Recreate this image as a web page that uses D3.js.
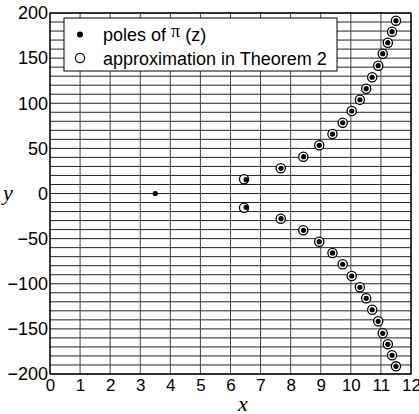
<!DOCTYPE html>
<html>
<head>
<meta charset="utf-8">
<script src="https://cdn.jsdelivr.net/npm/d3@7"></script>
<style>
  body { margin: 0; background: #fff; }
  text { font-family: "Liberation Sans", Arial, sans-serif; }
</style>
</head>
<body>
<div id="chart"></div>
<script>
// poles of pi(z): one real pole and a string of conjugate pairs
var realPoleX = [3.50];
var realPoleY = [0];
var poleX = [6.52, 7.68, 8.43, 8.95, 9.39, 9.73, 10.03, 10.30, 10.51, 10.71, 10.91, 11.06, 11.23, 11.37, 11.50];
var poleY = [15.3, 27.9, 40.8, 53.4, 65.9, 78.4, 91.4, 103.9, 116.1, 128.8, 141.6, 154.9, 167.1, 179.3, 191.5];
// approximation in Theorem 2
var approxX = [6.45, 7.67, 8.42, 8.95, 9.39, 9.73, 10.03, 10.30, 10.51, 10.71, 10.91, 11.06, 11.23, 11.37, 11.50];
var approxY = [15.8, 28.0, 40.8, 53.4, 65.9, 78.4, 91.4, 103.9, 116.1, 128.8, 141.6, 154.9, 167.1, 179.3, 191.5];

var xTicks = [0, 1, 2, 3, 4, 5, 6, 7, 8, 9, 10, 11, 12];
var yTicks = [-200, -150, -100, -50, 0, 50, 100, 150, 200];
var yGrid = d3.range(-200, 201, 10);

function main() {
    var margin = {top: 13, right: 8, bottom: 40, left: 50},
        width = 419 - margin.left - margin.right,
        height = 414 - margin.top - margin.bottom;

    var svg = d3.select("#chart")
        .append("svg")
        .attr("width", 419)
        .attr("height", 414)
        .append("g")
        .attr("transform", "translate(" + margin.left + "," + margin.top + ")");

    var x = d3.scaleLinear().domain([0, 12]).range([0, width]);
    var y = d3.scaleLinear().domain([-200, 200]).range([height, 0]);

    // grid
    svg.append("g")
        .selectAll("line")
        .data(yGrid)
        .join("line")
        .attr("x1", 0).attr("x2", width)
        .attr("y1", d => y(d)).attr("y2", d => y(d))
        .style("stroke", "#222")
        .style("stroke-width", 1);
    svg.append("g")
        .selectAll("line")
        .data(xTicks)
        .join("line")
        .attr("y1", 0).attr("y2", height)
        .attr("x1", d => x(d)).attr("x2", d => x(d))
        .style("stroke", "#444")
        .style("stroke-width", 1);

    // axes
    var xAxis = svg.append("g")
        .attr("transform", "translate(0," + height + ")")
        .call(d3.axisBottom(x).tickValues(xTicks).tickSize(0).tickPadding(5)
            .tickFormat(d3.format("d")));
    xAxis.select(".domain").remove();
    xAxis.selectAll("text").attr("font-size", "17px").attr("fill", "#000")
        .style("font-family", "Liberation Sans, Arial, sans-serif");

    var yAxis = svg.append("g")
        .call(d3.axisLeft(y).tickValues(yTicks).tickSize(0).tickPadding(2)
            .tickFormat(d => d < 0 ? "\u2212" + Math.abs(d) : d));
    yAxis.select(".domain").remove();
    yAxis.selectAll("text").attr("font-size", "18px").attr("fill", "#000")
        .style("font-family", "Liberation Sans, Arial, sans-serif");

    // frame
    svg.append("rect")
        .attr("width", width).attr("height", height)
        .style("fill", "none").style("stroke", "#000").style("stroke-width", 1.3);

    // axis labels
    svg.append("text")
        .attr("x", 188).attr("y", height + 37)
        .style("font-family", "Liberation Serif, serif")
        .style("font-style", "italic")
        .attr("font-size", "22px")
        .text("x");
    svg.append("text")
        .attr("x", -47).attr("y", y(0) + 6)
        .style("font-family", "Liberation Serif, serif")
        .style("font-style", "italic")
        .attr("font-size", "22px")
        .text("y");

    // approximation (open circles), upper and lower
    var approx = [];
    approxX.forEach((d, i) => {
        approx.push({x: d, y: approxY[i]});
        approx.push({x: d, y: -approxY[i]});
    });
    var poles = [{x: realPoleX[0], y: realPoleY[0]}];
    poleX.forEach((d, i) => {
        poles.push({x: d, y: poleY[i]});
        poles.push({x: d, y: -poleY[i]});
    });

    svg.append("g")
        .selectAll("circle")
        .data(approx)
        .join("circle")
        .attr("cx", d => x(d.x)).attr("cy", d => y(d.y))
        .attr("r", 4.6)
        .style("fill", "#fff")
        .style("stroke", "#000")
        .style("stroke-width", 1.3);

    svg.append("g")
        .selectAll("circle")
        .data(poles)
        .join("circle")
        .attr("cx", d => x(d.x)).attr("cy", d => y(d.y))
        .attr("r", 2.6)
        .style("fill", "#000");

    // legend
    var lg = svg.append("g").attr("transform", "translate(14,5)");
    lg.append("rect")
        .attr("width", 273).attr("height", 53)
        .style("fill", "#fff").style("stroke", "#000").style("stroke-width", 1);
    lg.append("circle").attr("cx", 16).attr("cy", 16.5).attr("r", 3).style("fill", "#000");
    lg.append("circle").attr("cx", 16).attr("cy", 40).attr("r", 4.6)
        .style("fill", "#fff").style("stroke", "#000").style("stroke-width", 1.2);
    var t1 = lg.append("text").attr("x", 39).attr("y", 23).attr("font-size", "18px");
    t1.append("tspan").text("poles of ");
    t1.append("tspan").style("font-family", "Liberation Serif, serif")
        .attr("font-size", "18px").attr("dy", -4).text("\u03c0");
    t1.append("tspan").attr("dy", 4).text(" (z)");
    lg.append("text").attr("x", 39).attr("y", 47).attr("font-size", "18px")
        .text("approximation in Theorem 2");
}

main();
</script>
</body>
</html>
